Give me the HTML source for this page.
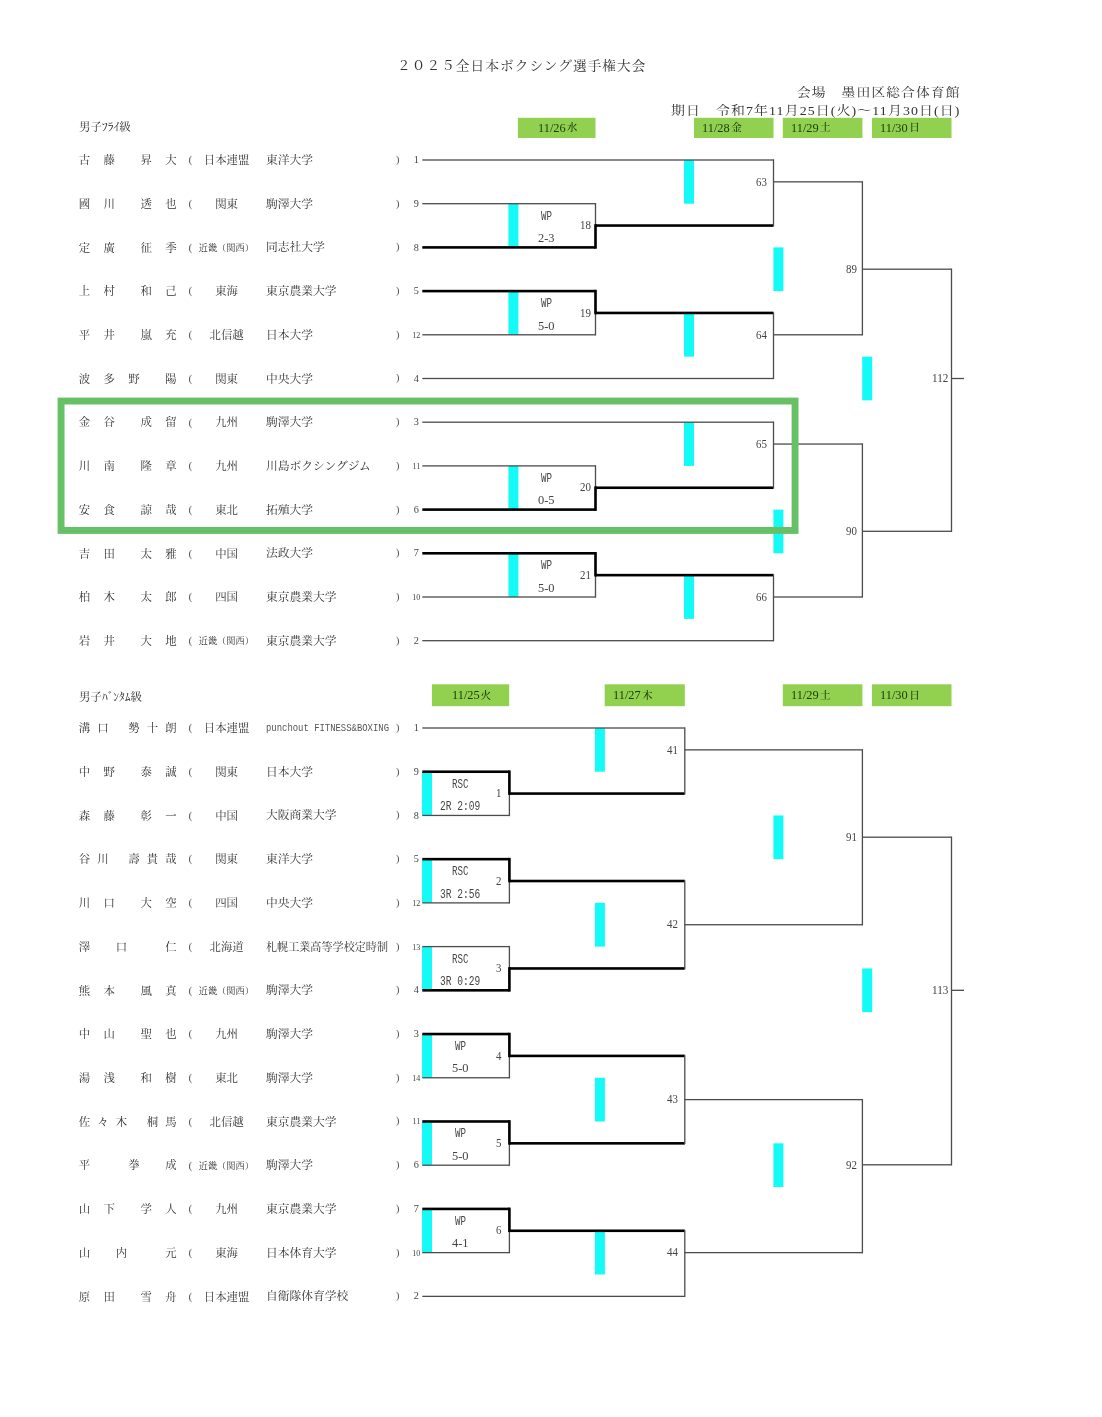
<!DOCTYPE html>
<html lang="ja"><head><meta charset="utf-8"><title>2025全日本ボクシング選手権大会</title>
<style>
html,body{margin:0;padding:0;background:#fff}
body{width:1102px;height:1417px;position:relative;overflow:hidden;font-family:"Liberation Serif","Noto Serif CJK JP","Noto Serif CJK SC",serif;color:#333}
#g{position:absolute;left:0;top:0}
.t{position:absolute;white-space:pre;line-height:1;transform-origin:0 50%}
.w{position:absolute;left:0;top:0;width:0;height:0;margin:0}
</style></head><body>
<svg id="g" width="1102" height="1417" viewBox="0 0 1102 1417" shape-rendering="auto">
<rect x="517.90" y="117.80" width="77.60" height="20.20" fill="#92d050"/>
<rect x="694.00" y="117.80" width="79.50" height="20.20" fill="#92d050"/>
<rect x="782.80" y="117.80" width="79.60" height="20.20" fill="#92d050"/>
<rect x="872.00" y="117.80" width="79.50" height="20.20" fill="#92d050"/>
<rect x="431.90" y="684.30" width="77.30" height="21.90" fill="#92d050"/>
<rect x="604.70" y="684.30" width="80.10" height="21.90" fill="#92d050"/>
<rect x="782.80" y="684.30" width="79.60" height="21.90" fill="#92d050"/>
<rect x="872.00" y="684.30" width="79.50" height="21.90" fill="#92d050"/>
<rect x="508.40" y="203.70" width="10.00" height="43.70" fill="#14fbf7"/>
<rect x="508.40" y="291.10" width="10.00" height="43.70" fill="#14fbf7"/>
<rect x="508.40" y="465.90" width="10.00" height="43.70" fill="#14fbf7"/>
<rect x="508.40" y="553.30" width="10.00" height="43.70" fill="#14fbf7"/>
<rect x="684.00" y="160.00" width="10.00" height="43.70" fill="#14fbf7"/>
<rect x="684.00" y="312.95" width="10.00" height="43.70" fill="#14fbf7"/>
<rect x="684.00" y="422.20" width="10.00" height="43.70" fill="#14fbf7"/>
<rect x="684.00" y="575.15" width="10.00" height="43.70" fill="#14fbf7"/>
<rect x="773.40" y="247.40" width="10.00" height="43.70" fill="#14fbf7"/>
<rect x="773.40" y="509.60" width="10.00" height="43.70" fill="#14fbf7"/>
<rect x="862.20" y="356.65" width="10.00" height="43.70" fill="#14fbf7"/>
<rect x="422.30" y="203.05" width="173.20" height="1.3" fill="#4c4c4c"/>
<rect x="422.30" y="246.10" width="173.20" height="2.6" fill="#000"/>
<rect x="594.85" y="203.05" width="1.3" height="45.00" fill="#4c4c4c"/>
<rect x="594.20" y="224.25" width="2.6" height="24.45" fill="#000"/>
<rect x="422.30" y="289.80" width="173.20" height="2.6" fill="#000"/>
<rect x="422.30" y="334.15" width="173.20" height="1.3" fill="#4c4c4c"/>
<rect x="594.85" y="290.45" width="1.3" height="45.00" fill="#4c4c4c"/>
<rect x="594.20" y="289.80" width="2.6" height="24.45" fill="#000"/>
<rect x="422.30" y="465.25" width="173.20" height="1.3" fill="#4c4c4c"/>
<rect x="422.30" y="508.30" width="173.20" height="2.6" fill="#000"/>
<rect x="594.85" y="465.25" width="1.3" height="45.00" fill="#4c4c4c"/>
<rect x="594.20" y="486.45" width="2.6" height="24.45" fill="#000"/>
<rect x="422.30" y="552.00" width="173.20" height="2.6" fill="#000"/>
<rect x="422.30" y="596.35" width="173.20" height="1.3" fill="#4c4c4c"/>
<rect x="594.85" y="552.65" width="1.3" height="45.00" fill="#4c4c4c"/>
<rect x="594.20" y="552.00" width="2.6" height="24.45" fill="#000"/>
<rect x="422.30" y="159.35" width="351.20" height="1.3" fill="#4c4c4c"/>
<rect x="595.50" y="224.25" width="178.00" height="2.6" fill="#000"/>
<rect x="772.85" y="159.35" width="1.3" height="66.85" fill="#4c4c4c"/>
<rect x="595.50" y="311.65" width="178.00" height="2.6" fill="#000"/>
<rect x="422.30" y="377.85" width="351.20" height="1.3" fill="#4c4c4c"/>
<rect x="772.85" y="312.30" width="1.3" height="66.85" fill="#4c4c4c"/>
<rect x="422.30" y="421.55" width="351.20" height="1.3" fill="#4c4c4c"/>
<rect x="595.50" y="486.45" width="178.00" height="2.6" fill="#000"/>
<rect x="772.85" y="421.55" width="1.3" height="66.85" fill="#4c4c4c"/>
<rect x="595.50" y="573.85" width="178.00" height="2.6" fill="#000"/>
<rect x="422.30" y="640.05" width="351.20" height="1.3" fill="#4c4c4c"/>
<rect x="772.85" y="574.50" width="1.3" height="66.85" fill="#4c4c4c"/>
<rect x="773.50" y="181.20" width="88.90" height="1.3" fill="#4c4c4c"/>
<rect x="773.50" y="334.15" width="88.90" height="1.3" fill="#4c4c4c"/>
<rect x="861.75" y="181.20" width="1.3" height="154.25" fill="#4c4c4c"/>
<rect x="773.50" y="443.40" width="88.90" height="1.3" fill="#4c4c4c"/>
<rect x="773.50" y="596.35" width="88.90" height="1.3" fill="#4c4c4c"/>
<rect x="861.75" y="443.40" width="1.3" height="154.25" fill="#4c4c4c"/>
<rect x="862.40" y="268.55" width="89.10" height="1.3" fill="#4c4c4c"/>
<rect x="862.40" y="530.65" width="89.10" height="1.3" fill="#4c4c4c"/>
<rect x="950.85" y="268.55" width="1.3" height="263.40" fill="#4c4c4c"/>
<rect x="951.50" y="377.85" width="12.50" height="1.3" fill="#4c4c4c"/>
<rect x="422.00" y="771.72" width="10.00" height="43.70" fill="#14fbf7"/>
<rect x="422.00" y="859.16" width="10.00" height="43.70" fill="#14fbf7"/>
<rect x="422.00" y="946.60" width="10.00" height="43.70" fill="#14fbf7"/>
<rect x="422.00" y="1034.04" width="10.00" height="43.70" fill="#14fbf7"/>
<rect x="422.00" y="1121.48" width="10.00" height="43.70" fill="#14fbf7"/>
<rect x="422.00" y="1208.92" width="10.00" height="43.70" fill="#14fbf7"/>
<rect x="594.90" y="728.00" width="10.00" height="43.70" fill="#14fbf7"/>
<rect x="594.90" y="902.88" width="10.00" height="43.70" fill="#14fbf7"/>
<rect x="594.90" y="1077.76" width="10.00" height="43.70" fill="#14fbf7"/>
<rect x="594.90" y="1230.77" width="10.00" height="43.70" fill="#14fbf7"/>
<rect x="773.40" y="815.44" width="10.00" height="43.70" fill="#14fbf7"/>
<rect x="773.40" y="1143.33" width="10.00" height="43.70" fill="#14fbf7"/>
<rect x="862.20" y="968.45" width="10.00" height="43.70" fill="#14fbf7"/>
<rect x="422.30" y="770.42" width="87.10" height="2.6" fill="#000"/>
<rect x="422.30" y="814.79" width="87.10" height="1.3" fill="#4c4c4c"/>
<rect x="508.75" y="771.07" width="1.3" height="45.02" fill="#4c4c4c"/>
<rect x="508.10" y="770.42" width="2.6" height="24.46" fill="#000"/>
<rect x="422.30" y="857.86" width="87.10" height="2.6" fill="#000"/>
<rect x="422.30" y="902.23" width="87.10" height="1.3" fill="#4c4c4c"/>
<rect x="508.75" y="858.51" width="1.3" height="45.02" fill="#4c4c4c"/>
<rect x="508.10" y="857.86" width="2.6" height="24.46" fill="#000"/>
<rect x="422.30" y="945.95" width="87.10" height="1.3" fill="#4c4c4c"/>
<rect x="422.30" y="989.02" width="87.10" height="2.6" fill="#000"/>
<rect x="508.75" y="945.95" width="1.3" height="45.02" fill="#4c4c4c"/>
<rect x="508.10" y="967.16" width="2.6" height="24.46" fill="#000"/>
<rect x="422.30" y="1032.74" width="87.10" height="2.6" fill="#000"/>
<rect x="422.30" y="1077.11" width="87.10" height="1.3" fill="#4c4c4c"/>
<rect x="508.75" y="1033.39" width="1.3" height="45.02" fill="#4c4c4c"/>
<rect x="508.10" y="1032.74" width="2.6" height="24.46" fill="#000"/>
<rect x="422.30" y="1120.18" width="87.10" height="2.6" fill="#000"/>
<rect x="422.30" y="1164.55" width="87.10" height="1.3" fill="#4c4c4c"/>
<rect x="508.75" y="1120.83" width="1.3" height="45.02" fill="#4c4c4c"/>
<rect x="508.10" y="1120.18" width="2.6" height="24.46" fill="#000"/>
<rect x="422.30" y="1207.62" width="87.10" height="2.6" fill="#000"/>
<rect x="422.30" y="1251.99" width="87.10" height="1.3" fill="#4c4c4c"/>
<rect x="508.75" y="1208.27" width="1.3" height="45.02" fill="#4c4c4c"/>
<rect x="508.10" y="1207.62" width="2.6" height="24.46" fill="#000"/>
<rect x="422.30" y="727.35" width="262.50" height="1.3" fill="#4c4c4c"/>
<rect x="509.40" y="792.28" width="175.40" height="2.6" fill="#000"/>
<rect x="684.15" y="727.35" width="1.3" height="66.88" fill="#4c4c4c"/>
<rect x="509.40" y="879.72" width="175.40" height="2.6" fill="#000"/>
<rect x="509.40" y="967.16" width="175.40" height="2.6" fill="#000"/>
<rect x="684.15" y="880.37" width="1.3" height="88.74" fill="#4c4c4c"/>
<rect x="509.40" y="1054.60" width="175.40" height="2.6" fill="#000"/>
<rect x="509.40" y="1142.04" width="175.40" height="2.6" fill="#000"/>
<rect x="684.15" y="1055.25" width="1.3" height="88.74" fill="#4c4c4c"/>
<rect x="509.40" y="1229.48" width="175.40" height="2.6" fill="#000"/>
<rect x="422.30" y="1295.71" width="262.50" height="1.3" fill="#4c4c4c"/>
<rect x="684.15" y="1230.13" width="1.3" height="66.88" fill="#4c4c4c"/>
<rect x="684.80" y="749.21" width="177.60" height="1.3" fill="#4c4c4c"/>
<rect x="684.80" y="924.09" width="177.60" height="1.3" fill="#4c4c4c"/>
<rect x="861.75" y="749.21" width="1.3" height="176.18" fill="#4c4c4c"/>
<rect x="684.80" y="1098.97" width="177.60" height="1.3" fill="#4c4c4c"/>
<rect x="684.80" y="1251.99" width="177.60" height="1.3" fill="#4c4c4c"/>
<rect x="861.75" y="1098.97" width="1.3" height="154.32" fill="#4c4c4c"/>
<rect x="862.40" y="836.55" width="89.10" height="1.3" fill="#4c4c4c"/>
<rect x="862.40" y="1164.15" width="89.10" height="1.3" fill="#4c4c4c"/>
<rect x="950.85" y="836.55" width="1.3" height="328.90" fill="#4c4c4c"/>
<rect x="951.50" y="989.67" width="12.50" height="1.3" fill="#4c4c4c"/>
</svg>
<span class="t" style="font-size:12.6px;letter-spacing:1.0px;left:397.00px;top:59.60px;transform:scaleX(1.0823);">２０２５全日本ボクシング選手権大会</span>
<span class="t" style="font-size:12.4px;letter-spacing:1.0px;left:797.30px;top:86.60px;transform:scaleX(1.1100);">会場　墨田区総合体育館</span>
<span class="t" style="font-size:12.4px;letter-spacing:1.0px;left:670.80px;top:104.50px;transform:scaleX(1.1203);">期日　令和7年11月25日(火)～11月30日(日)</span>
<div class="w d">
<span class="t" style="font-size:13.4px;color:#1b3a0c;left:537.70px;top:120.60px;transform:scaleX(0.9229);">11/26</span>
<span class="t" style="font-size:10.6px;color:#1b3a0c;font-weight:500;left:566.70px;top:123.20px;">水</span>
</div>
<div class="w d">
<span class="t" style="font-size:13.4px;color:#1b3a0c;left:702.20px;top:120.60px;transform:scaleX(0.9229);">11/28</span>
<span class="t" style="font-size:10.6px;color:#1b3a0c;font-weight:500;left:731.20px;top:123.20px;">金</span>
</div>
<div class="w d">
<span class="t" style="font-size:13.4px;color:#1b3a0c;left:791.00px;top:120.60px;transform:scaleX(0.9229);">11/29</span>
<span class="t" style="font-size:10.6px;color:#1b3a0c;font-weight:500;left:820.00px;top:123.20px;">土</span>
</div>
<div class="w d">
<span class="t" style="font-size:13.4px;color:#1b3a0c;left:880.20px;top:120.60px;transform:scaleX(0.9229);">11/30</span>
<span class="t" style="font-size:10.6px;color:#1b3a0c;font-weight:500;left:909.20px;top:123.20px;">日</span>
</div>
<div class="w d">
<span class="t" style="font-size:13.4px;color:#1b3a0c;left:451.55px;top:687.95px;transform:scaleX(0.9229);">11/25</span>
<span class="t" style="font-size:10.6px;color:#1b3a0c;font-weight:500;left:480.55px;top:690.55px;">火</span>
</div>
<div class="w d">
<span class="t" style="font-size:13.4px;color:#1b3a0c;left:612.90px;top:687.95px;transform:scaleX(0.9229);">11/27</span>
<span class="t" style="font-size:10.6px;color:#1b3a0c;font-weight:500;left:641.90px;top:690.55px;">木</span>
</div>
<div class="w d">
<span class="t" style="font-size:13.4px;color:#1b3a0c;left:791.00px;top:687.95px;transform:scaleX(0.9229);">11/29</span>
<span class="t" style="font-size:10.6px;color:#1b3a0c;font-weight:500;left:820.00px;top:690.55px;">土</span>
</div>
<div class="w d">
<span class="t" style="font-size:13.4px;color:#1b3a0c;left:880.20px;top:687.95px;transform:scaleX(0.9229);">11/30</span>
<span class="t" style="font-size:10.6px;color:#1b3a0c;font-weight:500;left:909.20px;top:690.55px;">日</span>
</div>
<span class="t" style="font-size:11.4px;left:79.00px;top:122.10px;transform:scaleX(1.0085);">男子ﾌﾗｲ級</span>
<span class="t" style="font-size:11.4px;left:79.00px;top:691.50px;transform:scaleX(1.0055);">男子ﾊﾞﾝﾀﾑ級</span>
<div class="w p">
<span class="w n">
<span class="t" style="font-size:11.4px;left:78.80px;top:155.20px;">古</span>
<span class="t" style="font-size:11.4px;left:103.50px;top:155.20px;">藤</span>
<span class="t" style="font-size:11.4px;left:140.55px;top:155.20px;">昇</span>
<span class="t" style="font-size:11.4px;left:165.25px;top:155.20px;">大</span>
</span>
<span class="t" style="font-size:11.4px;color:#5a5a5a;left:188.60px;top:154.30px;">(</span>
<span class="t" style="font-size:11.4px;left:203.81px;top:155.20px;">日本連盟</span>
<span class="t" style="font-size:11.75px;left:266.00px;top:155.03px;">東洋大学</span>
<span class="t" style="font-size:11.4px;color:#5a5a5a;left:395.70px;top:153.90px;">)</span>
<span class="t" style="font-size:10.2px;color:#444;left:413.75px;top:155.10px;">1</span>
</div>
<div class="w p">
<span class="w n">
<span class="t" style="font-size:11.4px;left:78.80px;top:198.90px;">國</span>
<span class="t" style="font-size:11.4px;left:103.50px;top:198.90px;">川</span>
<span class="t" style="font-size:11.4px;left:140.55px;top:198.90px;">透</span>
<span class="t" style="font-size:11.4px;left:165.25px;top:198.90px;">也</span>
</span>
<span class="t" style="font-size:11.4px;color:#5a5a5a;left:188.60px;top:198.00px;">(</span>
<span class="t" style="font-size:11.4px;left:215.20px;top:198.90px;">関東</span>
<span class="t" style="font-size:11.75px;left:266.00px;top:198.72px;">駒澤大学</span>
<span class="t" style="font-size:11.4px;color:#5a5a5a;left:395.70px;top:197.60px;">)</span>
<span class="t" style="font-size:10.2px;color:#444;left:413.75px;top:198.80px;">9</span>
</div>
<div class="w p">
<span class="w n">
<span class="t" style="font-size:11.4px;left:78.80px;top:242.60px;">定</span>
<span class="t" style="font-size:11.4px;left:103.50px;top:242.60px;">廣</span>
<span class="t" style="font-size:11.4px;left:140.55px;top:242.60px;">征</span>
<span class="t" style="font-size:11.4px;left:165.25px;top:242.60px;">季</span>
</span>
<span class="t" style="font-size:11.4px;color:#5a5a5a;left:188.60px;top:241.70px;">(</span>
<span class="t" style="font-size:9.2px;left:198.74px;top:243.70px;">近畿（関西）</span>
<span class="t" style="font-size:11.75px;left:266.00px;top:242.43px;">同志社大学</span>
<span class="t" style="font-size:11.4px;color:#5a5a5a;left:395.70px;top:241.30px;">)</span>
<span class="t" style="font-size:10.2px;color:#444;left:413.75px;top:242.50px;">8</span>
</div>
<div class="w p">
<span class="w n">
<span class="t" style="font-size:11.4px;left:78.80px;top:286.30px;">上</span>
<span class="t" style="font-size:11.4px;left:103.50px;top:286.30px;">村</span>
<span class="t" style="font-size:11.4px;left:140.55px;top:286.30px;">和</span>
<span class="t" style="font-size:11.4px;left:165.25px;top:286.30px;">己</span>
</span>
<span class="t" style="font-size:11.4px;color:#5a5a5a;left:188.60px;top:285.40px;">(</span>
<span class="t" style="font-size:11.4px;left:215.20px;top:286.30px;">東海</span>
<span class="t" style="font-size:11.75px;left:266.00px;top:286.12px;">東京農業大学</span>
<span class="t" style="font-size:11.4px;color:#5a5a5a;left:395.70px;top:285.00px;">)</span>
<span class="t" style="font-size:10.2px;color:#444;left:413.75px;top:286.20px;">5</span>
</div>
<div class="w p">
<span class="w n">
<span class="t" style="font-size:11.4px;left:78.80px;top:330.00px;">平</span>
<span class="t" style="font-size:11.4px;left:103.50px;top:330.00px;">井</span>
<span class="t" style="font-size:11.4px;left:140.55px;top:330.00px;">嵐</span>
<span class="t" style="font-size:11.4px;left:165.25px;top:330.00px;">充</span>
</span>
<span class="t" style="font-size:11.4px;color:#5a5a5a;left:188.60px;top:329.10px;">(</span>
<span class="t" style="font-size:11.4px;left:209.51px;top:330.00px;">北信越</span>
<span class="t" style="font-size:11.75px;left:266.00px;top:329.82px;">日本大学</span>
<span class="t" style="font-size:11.4px;color:#5a5a5a;left:395.70px;top:328.70px;">)</span>
<span class="t" style="font-size:8px;color:#444;left:412.30px;top:331.70px;">12</span>
</div>
<div class="w p">
<span class="w n">
<span class="t" style="font-size:11.4px;left:78.80px;top:373.70px;">波</span>
<span class="t" style="font-size:11.4px;left:103.50px;top:373.70px;">多</span>
<span class="t" style="font-size:11.4px;left:128.20px;top:373.70px;">野</span>
<span class="t" style="font-size:11.4px;left:165.25px;top:373.70px;">陽</span>
</span>
<span class="t" style="font-size:11.4px;color:#5a5a5a;left:188.60px;top:372.80px;">(</span>
<span class="t" style="font-size:11.4px;left:215.20px;top:373.70px;">関東</span>
<span class="t" style="font-size:11.75px;left:266.00px;top:373.52px;">中央大学</span>
<span class="t" style="font-size:11.4px;color:#5a5a5a;left:395.70px;top:372.40px;">)</span>
<span class="t" style="font-size:10.2px;color:#444;left:413.75px;top:373.60px;">4</span>
</div>
<div class="w p">
<span class="w n">
<span class="t" style="font-size:11.4px;left:78.80px;top:417.40px;">金</span>
<span class="t" style="font-size:11.4px;left:103.50px;top:417.40px;">谷</span>
<span class="t" style="font-size:11.4px;left:140.55px;top:417.40px;">成</span>
<span class="t" style="font-size:11.4px;left:165.25px;top:417.40px;">留</span>
</span>
<span class="t" style="font-size:11.4px;color:#5a5a5a;left:188.60px;top:416.50px;">(</span>
<span class="t" style="font-size:11.4px;left:215.20px;top:417.40px;">九州</span>
<span class="t" style="font-size:11.75px;left:266.00px;top:417.23px;">駒澤大学</span>
<span class="t" style="font-size:11.4px;color:#5a5a5a;left:395.70px;top:416.10px;">)</span>
<span class="t" style="font-size:10.2px;color:#444;left:413.75px;top:417.30px;">3</span>
</div>
<div class="w p">
<span class="w n">
<span class="t" style="font-size:11.4px;left:78.80px;top:461.10px;">川</span>
<span class="t" style="font-size:11.4px;left:103.50px;top:461.10px;">南</span>
<span class="t" style="font-size:11.4px;left:140.55px;top:461.10px;">隆</span>
<span class="t" style="font-size:11.4px;left:165.25px;top:461.10px;">章</span>
</span>
<span class="t" style="font-size:11.4px;color:#5a5a5a;left:188.60px;top:460.20px;">(</span>
<span class="t" style="font-size:11.4px;left:215.20px;top:461.10px;">九州</span>
<span class="t" style="font-size:11.75px;left:266.00px;top:460.93px;">川島ボクシングジム</span>
<span class="t" style="font-size:11.4px;color:#5a5a5a;left:395.70px;top:459.80px;">)</span>
<span class="t" style="font-size:8px;color:#444;left:412.45px;top:462.80px;">11</span>
</div>
<div class="w p">
<span class="w n">
<span class="t" style="font-size:11.4px;left:78.80px;top:504.80px;">安</span>
<span class="t" style="font-size:11.4px;left:103.50px;top:504.80px;">食</span>
<span class="t" style="font-size:11.4px;left:140.55px;top:504.80px;">諒</span>
<span class="t" style="font-size:11.4px;left:165.25px;top:504.80px;">哉</span>
</span>
<span class="t" style="font-size:11.4px;color:#5a5a5a;left:188.60px;top:503.90px;">(</span>
<span class="t" style="font-size:11.4px;left:215.20px;top:504.80px;">東北</span>
<span class="t" style="font-size:11.75px;left:266.00px;top:504.62px;">拓殖大学</span>
<span class="t" style="font-size:11.4px;color:#5a5a5a;left:395.70px;top:503.50px;">)</span>
<span class="t" style="font-size:10.2px;color:#444;left:413.75px;top:504.70px;">6</span>
</div>
<div class="w p">
<span class="w n">
<span class="t" style="font-size:11.4px;left:78.80px;top:548.50px;">吉</span>
<span class="t" style="font-size:11.4px;left:103.50px;top:548.50px;">田</span>
<span class="t" style="font-size:11.4px;left:140.55px;top:548.50px;">太</span>
<span class="t" style="font-size:11.4px;left:165.25px;top:548.50px;">雅</span>
</span>
<span class="t" style="font-size:11.4px;color:#5a5a5a;left:188.60px;top:547.60px;">(</span>
<span class="t" style="font-size:11.4px;left:215.20px;top:548.50px;">中国</span>
<span class="t" style="font-size:11.75px;left:266.00px;top:548.32px;">法政大学</span>
<span class="t" style="font-size:11.4px;color:#5a5a5a;left:395.70px;top:547.20px;">)</span>
<span class="t" style="font-size:10.2px;color:#444;left:413.75px;top:548.40px;">7</span>
</div>
<div class="w p">
<span class="w n">
<span class="t" style="font-size:11.4px;left:78.80px;top:592.20px;">柏</span>
<span class="t" style="font-size:11.4px;left:103.50px;top:592.20px;">木</span>
<span class="t" style="font-size:11.4px;left:140.55px;top:592.20px;">太</span>
<span class="t" style="font-size:11.4px;left:165.25px;top:592.20px;">郎</span>
</span>
<span class="t" style="font-size:11.4px;color:#5a5a5a;left:188.60px;top:591.30px;">(</span>
<span class="t" style="font-size:11.4px;left:215.20px;top:592.20px;">四国</span>
<span class="t" style="font-size:11.75px;left:266.00px;top:592.02px;">東京農業大学</span>
<span class="t" style="font-size:11.4px;color:#5a5a5a;left:395.70px;top:590.90px;">)</span>
<span class="t" style="font-size:8px;color:#444;left:412.30px;top:593.90px;">10</span>
</div>
<div class="w p">
<span class="w n">
<span class="t" style="font-size:11.4px;left:78.80px;top:635.90px;">岩</span>
<span class="t" style="font-size:11.4px;left:103.50px;top:635.90px;">井</span>
<span class="t" style="font-size:11.4px;left:140.55px;top:635.90px;">大</span>
<span class="t" style="font-size:11.4px;left:165.25px;top:635.90px;">地</span>
</span>
<span class="t" style="font-size:11.4px;color:#5a5a5a;left:188.60px;top:635.00px;">(</span>
<span class="t" style="font-size:9.2px;left:198.74px;top:637.00px;">近畿（関西）</span>
<span class="t" style="font-size:11.75px;left:266.00px;top:635.73px;">東京農業大学</span>
<span class="t" style="font-size:11.4px;color:#5a5a5a;left:395.70px;top:634.60px;">)</span>
<span class="t" style="font-size:10.2px;color:#444;left:413.75px;top:635.80px;">2</span>
</div>
<div class="w p">
<span class="w n">
<span class="t" style="font-size:11.4px;left:78.80px;top:723.20px;">溝</span>
<span class="t" style="font-size:11.4px;left:97.32px;top:723.20px;">口</span>
<span class="t" style="font-size:11.4px;left:128.20px;top:723.20px;">勢</span>
<span class="t" style="font-size:11.4px;left:146.72px;top:723.20px;">十</span>
<span class="t" style="font-size:11.4px;left:165.25px;top:723.20px;">朗</span>
</span>
<span class="t" style="font-size:11.4px;color:#5a5a5a;left:188.60px;top:722.30px;">(</span>
<span class="t" style="font-size:11.4px;left:203.81px;top:723.20px;">日本連盟</span>
<span class="t" style="font-size:11.75px;color:#555;font-family:'Liberation Mono',monospace;left:266.00px;top:723.02px;transform:scaleX(0.7584);">punchout FITNESS&amp;BOXING</span>
<span class="t" style="font-size:11.4px;color:#5a5a5a;left:395.70px;top:721.90px;">)</span>
<span class="t" style="font-size:10.2px;color:#444;left:413.75px;top:723.10px;">1</span>
</div>
<div class="w p">
<span class="w n">
<span class="t" style="font-size:11.4px;left:78.80px;top:766.92px;">中</span>
<span class="t" style="font-size:11.4px;left:103.50px;top:766.92px;">野</span>
<span class="t" style="font-size:11.4px;left:140.55px;top:766.92px;">泰</span>
<span class="t" style="font-size:11.4px;left:165.25px;top:766.92px;">誠</span>
</span>
<span class="t" style="font-size:11.4px;color:#5a5a5a;left:188.60px;top:766.02px;">(</span>
<span class="t" style="font-size:11.4px;left:215.20px;top:766.92px;">関東</span>
<span class="t" style="font-size:11.75px;left:266.00px;top:766.75px;">日本大学</span>
<span class="t" style="font-size:11.4px;color:#5a5a5a;left:395.70px;top:765.62px;">)</span>
<span class="t" style="font-size:10.2px;color:#444;left:413.75px;top:766.82px;">9</span>
</div>
<div class="w p">
<span class="w n">
<span class="t" style="font-size:11.4px;left:78.80px;top:810.64px;">森</span>
<span class="t" style="font-size:11.4px;left:103.50px;top:810.64px;">藤</span>
<span class="t" style="font-size:11.4px;left:140.55px;top:810.64px;">彰</span>
<span class="t" style="font-size:11.4px;left:165.25px;top:810.64px;">一</span>
</span>
<span class="t" style="font-size:11.4px;color:#5a5a5a;left:188.60px;top:809.74px;">(</span>
<span class="t" style="font-size:11.4px;left:215.20px;top:810.64px;">中国</span>
<span class="t" style="font-size:11.75px;left:266.00px;top:810.47px;">大阪商業大学</span>
<span class="t" style="font-size:11.4px;color:#5a5a5a;left:395.70px;top:809.34px;">)</span>
<span class="t" style="font-size:10.2px;color:#444;left:413.75px;top:810.54px;">8</span>
</div>
<div class="w p">
<span class="w n">
<span class="t" style="font-size:11.4px;left:78.80px;top:854.36px;">谷</span>
<span class="t" style="font-size:11.4px;left:97.32px;top:854.36px;">川</span>
<span class="t" style="font-size:11.4px;left:128.20px;top:854.36px;">壽</span>
<span class="t" style="font-size:11.4px;left:146.72px;top:854.36px;">貴</span>
<span class="t" style="font-size:11.4px;left:165.25px;top:854.36px;">哉</span>
</span>
<span class="t" style="font-size:11.4px;color:#5a5a5a;left:188.60px;top:853.46px;">(</span>
<span class="t" style="font-size:11.4px;left:215.20px;top:854.36px;">関東</span>
<span class="t" style="font-size:11.75px;left:266.00px;top:854.18px;">東洋大学</span>
<span class="t" style="font-size:11.4px;color:#5a5a5a;left:395.70px;top:853.06px;">)</span>
<span class="t" style="font-size:10.2px;color:#444;left:413.75px;top:854.26px;">5</span>
</div>
<div class="w p">
<span class="w n">
<span class="t" style="font-size:11.4px;left:78.80px;top:898.08px;">川</span>
<span class="t" style="font-size:11.4px;left:103.50px;top:898.08px;">口</span>
<span class="t" style="font-size:11.4px;left:140.55px;top:898.08px;">大</span>
<span class="t" style="font-size:11.4px;left:165.25px;top:898.08px;">空</span>
</span>
<span class="t" style="font-size:11.4px;color:#5a5a5a;left:188.60px;top:897.18px;">(</span>
<span class="t" style="font-size:11.4px;left:215.20px;top:898.08px;">四国</span>
<span class="t" style="font-size:11.75px;left:266.00px;top:897.90px;">中央大学</span>
<span class="t" style="font-size:11.4px;color:#5a5a5a;left:395.70px;top:896.78px;">)</span>
<span class="t" style="font-size:8px;color:#444;left:412.30px;top:899.78px;">12</span>
</div>
<div class="w p">
<span class="w n">
<span class="t" style="font-size:11.4px;left:78.80px;top:941.80px;">澤</span>
<span class="t" style="font-size:11.4px;left:115.85px;top:941.80px;">口</span>
<span class="t" style="font-size:11.4px;left:165.25px;top:941.80px;">仁</span>
</span>
<span class="t" style="font-size:11.4px;color:#5a5a5a;left:188.60px;top:940.90px;">(</span>
<span class="t" style="font-size:11.4px;left:209.51px;top:941.80px;">北海道</span>
<span class="t" style="font-size:11.75px;left:266.00px;top:941.62px;transform:scaleX(0.9439);">札幌工業高等学校定時制</span>
<span class="t" style="font-size:11.4px;color:#5a5a5a;left:395.70px;top:940.50px;">)</span>
<span class="t" style="font-size:8px;color:#444;left:412.30px;top:943.50px;">13</span>
</div>
<div class="w p">
<span class="w n">
<span class="t" style="font-size:11.4px;left:78.80px;top:985.52px;">熊</span>
<span class="t" style="font-size:11.4px;left:103.50px;top:985.52px;">本</span>
<span class="t" style="font-size:11.4px;left:140.55px;top:985.52px;">風</span>
<span class="t" style="font-size:11.4px;left:165.25px;top:985.52px;">真</span>
</span>
<span class="t" style="font-size:11.4px;color:#5a5a5a;left:188.60px;top:984.62px;">(</span>
<span class="t" style="font-size:9.2px;left:198.74px;top:986.62px;">近畿（関西）</span>
<span class="t" style="font-size:11.75px;left:266.00px;top:985.34px;">駒澤大学</span>
<span class="t" style="font-size:11.4px;color:#5a5a5a;left:395.70px;top:984.22px;">)</span>
<span class="t" style="font-size:10.2px;color:#444;left:413.75px;top:985.42px;">4</span>
</div>
<div class="w p">
<span class="w n">
<span class="t" style="font-size:11.4px;left:78.80px;top:1029.24px;">中</span>
<span class="t" style="font-size:11.4px;left:103.50px;top:1029.24px;">山</span>
<span class="t" style="font-size:11.4px;left:140.55px;top:1029.24px;">聖</span>
<span class="t" style="font-size:11.4px;left:165.25px;top:1029.24px;">也</span>
</span>
<span class="t" style="font-size:11.4px;color:#5a5a5a;left:188.60px;top:1028.34px;">(</span>
<span class="t" style="font-size:11.4px;left:215.20px;top:1029.24px;">九州</span>
<span class="t" style="font-size:11.75px;left:266.00px;top:1029.07px;">駒澤大学</span>
<span class="t" style="font-size:11.4px;color:#5a5a5a;left:395.70px;top:1027.94px;">)</span>
<span class="t" style="font-size:10.2px;color:#444;left:413.75px;top:1029.14px;">3</span>
</div>
<div class="w p">
<span class="w n">
<span class="t" style="font-size:11.4px;left:78.80px;top:1072.96px;">湯</span>
<span class="t" style="font-size:11.4px;left:103.50px;top:1072.96px;">浅</span>
<span class="t" style="font-size:11.4px;left:140.55px;top:1072.96px;">和</span>
<span class="t" style="font-size:11.4px;left:165.25px;top:1072.96px;">樹</span>
</span>
<span class="t" style="font-size:11.4px;color:#5a5a5a;left:188.60px;top:1072.06px;">(</span>
<span class="t" style="font-size:11.4px;left:215.20px;top:1072.96px;">東北</span>
<span class="t" style="font-size:11.75px;left:266.00px;top:1072.79px;">駒澤大学</span>
<span class="t" style="font-size:11.4px;color:#5a5a5a;left:395.70px;top:1071.66px;">)</span>
<span class="t" style="font-size:8px;color:#444;left:412.30px;top:1074.66px;">14</span>
</div>
<div class="w p">
<span class="w n">
<span class="t" style="font-size:11.4px;left:78.80px;top:1116.68px;">佐</span>
<span class="t" style="font-size:11.4px;left:97.32px;top:1116.68px;">々</span>
<span class="t" style="font-size:11.4px;left:115.85px;top:1116.68px;">木</span>
<span class="t" style="font-size:11.4px;left:146.72px;top:1116.68px;">桐</span>
<span class="t" style="font-size:11.4px;left:165.25px;top:1116.68px;">馬</span>
</span>
<span class="t" style="font-size:11.4px;color:#5a5a5a;left:188.60px;top:1115.78px;">(</span>
<span class="t" style="font-size:11.4px;left:209.51px;top:1116.68px;">北信越</span>
<span class="t" style="font-size:11.75px;left:266.00px;top:1116.51px;">東京農業大学</span>
<span class="t" style="font-size:11.4px;color:#5a5a5a;left:395.70px;top:1115.38px;">)</span>
<span class="t" style="font-size:8px;color:#444;left:412.45px;top:1118.38px;">11</span>
</div>
<div class="w p">
<span class="w n">
<span class="t" style="font-size:11.4px;left:78.80px;top:1160.40px;">平</span>
<span class="t" style="font-size:11.4px;left:128.20px;top:1160.40px;">拳</span>
<span class="t" style="font-size:11.4px;left:165.25px;top:1160.40px;">成</span>
</span>
<span class="t" style="font-size:11.4px;color:#5a5a5a;left:188.60px;top:1159.50px;">(</span>
<span class="t" style="font-size:9.2px;left:198.74px;top:1161.50px;">近畿（関西）</span>
<span class="t" style="font-size:11.75px;left:266.00px;top:1160.23px;">駒澤大学</span>
<span class="t" style="font-size:11.4px;color:#5a5a5a;left:395.70px;top:1159.10px;">)</span>
<span class="t" style="font-size:10.2px;color:#444;left:413.75px;top:1160.30px;">6</span>
</div>
<div class="w p">
<span class="w n">
<span class="t" style="font-size:11.4px;left:78.80px;top:1204.12px;">山</span>
<span class="t" style="font-size:11.4px;left:103.50px;top:1204.12px;">下</span>
<span class="t" style="font-size:11.4px;left:140.55px;top:1204.12px;">学</span>
<span class="t" style="font-size:11.4px;left:165.25px;top:1204.12px;">人</span>
</span>
<span class="t" style="font-size:11.4px;color:#5a5a5a;left:188.60px;top:1203.22px;">(</span>
<span class="t" style="font-size:11.4px;left:215.20px;top:1204.12px;">九州</span>
<span class="t" style="font-size:11.75px;left:266.00px;top:1203.95px;">東京農業大学</span>
<span class="t" style="font-size:11.4px;color:#5a5a5a;left:395.70px;top:1202.82px;">)</span>
<span class="t" style="font-size:10.2px;color:#444;left:413.75px;top:1204.02px;">7</span>
</div>
<div class="w p">
<span class="w n">
<span class="t" style="font-size:11.4px;left:78.80px;top:1247.84px;">山</span>
<span class="t" style="font-size:11.4px;left:115.85px;top:1247.84px;">内</span>
<span class="t" style="font-size:11.4px;left:165.25px;top:1247.84px;">元</span>
</span>
<span class="t" style="font-size:11.4px;color:#5a5a5a;left:188.60px;top:1246.94px;">(</span>
<span class="t" style="font-size:11.4px;left:215.20px;top:1247.84px;">東海</span>
<span class="t" style="font-size:11.75px;left:266.00px;top:1247.66px;">日本体育大学</span>
<span class="t" style="font-size:11.4px;color:#5a5a5a;left:395.70px;top:1246.54px;">)</span>
<span class="t" style="font-size:8px;color:#444;left:412.30px;top:1249.54px;">10</span>
</div>
<div class="w p">
<span class="w n">
<span class="t" style="font-size:11.4px;left:78.80px;top:1291.56px;">原</span>
<span class="t" style="font-size:11.4px;left:103.50px;top:1291.56px;">田</span>
<span class="t" style="font-size:11.4px;left:140.55px;top:1291.56px;">雪</span>
<span class="t" style="font-size:11.4px;left:165.25px;top:1291.56px;">舟</span>
</span>
<span class="t" style="font-size:11.4px;color:#5a5a5a;left:188.60px;top:1290.66px;">(</span>
<span class="t" style="font-size:11.4px;left:203.81px;top:1291.56px;">日本連盟</span>
<span class="t" style="font-size:11.75px;left:266.00px;top:1291.39px;">自衛隊体育学校</span>
<span class="t" style="font-size:11.4px;color:#5a5a5a;left:395.70px;top:1290.26px;">)</span>
<span class="t" style="font-size:10.2px;color:#444;left:413.75px;top:1291.46px;">2</span>
</div>
<span class="t" style="font-size:12.4px;color:#444;left:579.75px;top:219.25px;transform:scaleX(0.8797);">18</span>
<span class="t" style="font-size:12.4px;color:#444;left:579.75px;top:306.65px;transform:scaleX(0.8797);">19</span>
<span class="t" style="font-size:12.4px;color:#444;left:579.75px;top:481.45px;transform:scaleX(0.8797);">20</span>
<span class="t" style="font-size:12.4px;color:#444;left:579.75px;top:568.85px;transform:scaleX(0.8797);">21</span>
<div class="w r">
<span class="t" style="font-size:12.4px;color:#444;font-family:'Liberation Mono',monospace;left:540.70px;top:210.70px;transform:scaleX(0.7395);">WP</span>
<span class="t" style="font-size:12.4px;color:#444;left:537.90px;top:232.10px;transform:scaleX(1.0042);">2-3</span>
</div>
<div class="w r">
<span class="t" style="font-size:12.4px;color:#444;font-family:'Liberation Mono',monospace;left:540.70px;top:298.10px;transform:scaleX(0.7395);">WP</span>
<span class="t" style="font-size:12.4px;color:#444;left:537.90px;top:319.50px;transform:scaleX(1.0042);">5-0</span>
</div>
<div class="w r">
<span class="t" style="font-size:12.4px;color:#444;font-family:'Liberation Mono',monospace;left:540.70px;top:472.90px;transform:scaleX(0.7395);">WP</span>
<span class="t" style="font-size:12.4px;color:#444;left:537.90px;top:494.30px;transform:scaleX(1.0042);">0-5</span>
</div>
<div class="w r">
<span class="t" style="font-size:12.4px;color:#444;font-family:'Liberation Mono',monospace;left:540.70px;top:560.30px;transform:scaleX(0.7395);">WP</span>
<span class="t" style="font-size:12.4px;color:#444;left:537.90px;top:581.70px;transform:scaleX(1.0042);">5-0</span>
</div>
<span class="t" style="font-size:12.4px;color:#444;left:756.15px;top:175.55px;transform:scaleX(0.8797);">63</span>
<span class="t" style="font-size:12.4px;color:#444;left:756.15px;top:328.50px;transform:scaleX(0.8797);">64</span>
<span class="t" style="font-size:12.4px;color:#444;left:756.15px;top:437.75px;transform:scaleX(0.8797);">65</span>
<span class="t" style="font-size:12.4px;color:#444;left:756.15px;top:590.70px;transform:scaleX(0.8797);">66</span>
<span class="t" style="font-size:12.4px;color:#444;left:845.55px;top:262.90px;transform:scaleX(0.8797);">89</span>
<span class="t" style="font-size:12.4px;color:#444;left:845.55px;top:525.00px;transform:scaleX(0.8797);">90</span>
<span class="t" style="font-size:12.4px;color:#444;left:931.83px;top:372.20px;transform:scaleX(0.9013);">112</span>
<span class="t" style="font-size:12.4px;color:#444;left:495.77px;top:787.28px;transform:scaleX(0.8786);">1</span>
<span class="t" style="font-size:12.4px;color:#444;left:495.77px;top:874.72px;transform:scaleX(0.8786);">2</span>
<span class="t" style="font-size:12.4px;color:#444;left:495.77px;top:962.16px;transform:scaleX(0.8786);">3</span>
<span class="t" style="font-size:12.4px;color:#444;left:495.77px;top:1049.60px;transform:scaleX(0.8786);">4</span>
<span class="t" style="font-size:12.4px;color:#444;left:495.77px;top:1137.04px;transform:scaleX(0.8786);">5</span>
<span class="t" style="font-size:12.4px;color:#444;left:495.77px;top:1224.48px;transform:scaleX(0.8786);">6</span>
<div class="w r">
<span class="t" style="font-size:12.4px;color:#444;font-family:'Liberation Mono',monospace;left:451.75px;top:778.72px;transform:scaleX(0.7395);">RSC</span>
<span class="t" style="font-size:12.4px;color:#444;font-family:'Liberation Mono',monospace;left:439.85px;top:801.12px;transform:scaleX(0.7741);">2R 2:09</span>
</div>
<div class="w r">
<span class="t" style="font-size:12.4px;color:#444;font-family:'Liberation Mono',monospace;left:451.75px;top:866.16px;transform:scaleX(0.7395);">RSC</span>
<span class="t" style="font-size:12.4px;color:#444;font-family:'Liberation Mono',monospace;left:439.85px;top:888.56px;transform:scaleX(0.7741);">3R 2:56</span>
</div>
<div class="w r">
<span class="t" style="font-size:12.4px;color:#444;font-family:'Liberation Mono',monospace;left:451.75px;top:953.60px;transform:scaleX(0.7395);">RSC</span>
<span class="t" style="font-size:12.4px;color:#444;font-family:'Liberation Mono',monospace;left:439.85px;top:976.00px;transform:scaleX(0.7741);">3R 0:29</span>
</div>
<div class="w r">
<span class="t" style="font-size:12.4px;color:#444;font-family:'Liberation Mono',monospace;left:454.50px;top:1041.04px;transform:scaleX(0.7395);">WP</span>
<span class="t" style="font-size:12.4px;color:#444;left:451.70px;top:1062.44px;transform:scaleX(1.0042);">5-0</span>
</div>
<div class="w r">
<span class="t" style="font-size:12.4px;color:#444;font-family:'Liberation Mono',monospace;left:454.50px;top:1128.48px;transform:scaleX(0.7395);">WP</span>
<span class="t" style="font-size:12.4px;color:#444;left:451.70px;top:1149.88px;transform:scaleX(1.0042);">5-0</span>
</div>
<div class="w r">
<span class="t" style="font-size:12.4px;color:#444;font-family:'Liberation Mono',monospace;left:454.50px;top:1215.92px;transform:scaleX(0.7395);">WP</span>
<span class="t" style="font-size:12.4px;color:#444;left:451.70px;top:1237.32px;transform:scaleX(1.0042);">4-1</span>
</div>
<span class="t" style="font-size:12.4px;color:#444;left:667.15px;top:743.56px;transform:scaleX(0.8797);">41</span>
<span class="t" style="font-size:12.4px;color:#444;left:667.15px;top:918.44px;transform:scaleX(0.8797);">42</span>
<span class="t" style="font-size:12.4px;color:#444;left:667.15px;top:1093.32px;transform:scaleX(0.8797);">43</span>
<span class="t" style="font-size:12.4px;color:#444;left:667.15px;top:1246.34px;transform:scaleX(0.8797);">44</span>
<span class="t" style="font-size:12.4px;color:#444;left:845.55px;top:830.90px;transform:scaleX(0.8797);">91</span>
<span class="t" style="font-size:12.4px;color:#444;left:845.55px;top:1158.50px;transform:scaleX(0.8797);">92</span>
<span class="t" style="font-size:12.4px;color:#444;left:931.83px;top:984.02px;transform:scaleX(0.9013);">113</span>
<svg style="position:absolute;left:0;top:0" width="1102" height="1417" viewBox="0 0 1102 1417"><rect x="61.05" y="401.05" width="734.00" height="129.40" fill="none" stroke="#66c066" stroke-width="6.9"/></svg>
</body></html>
